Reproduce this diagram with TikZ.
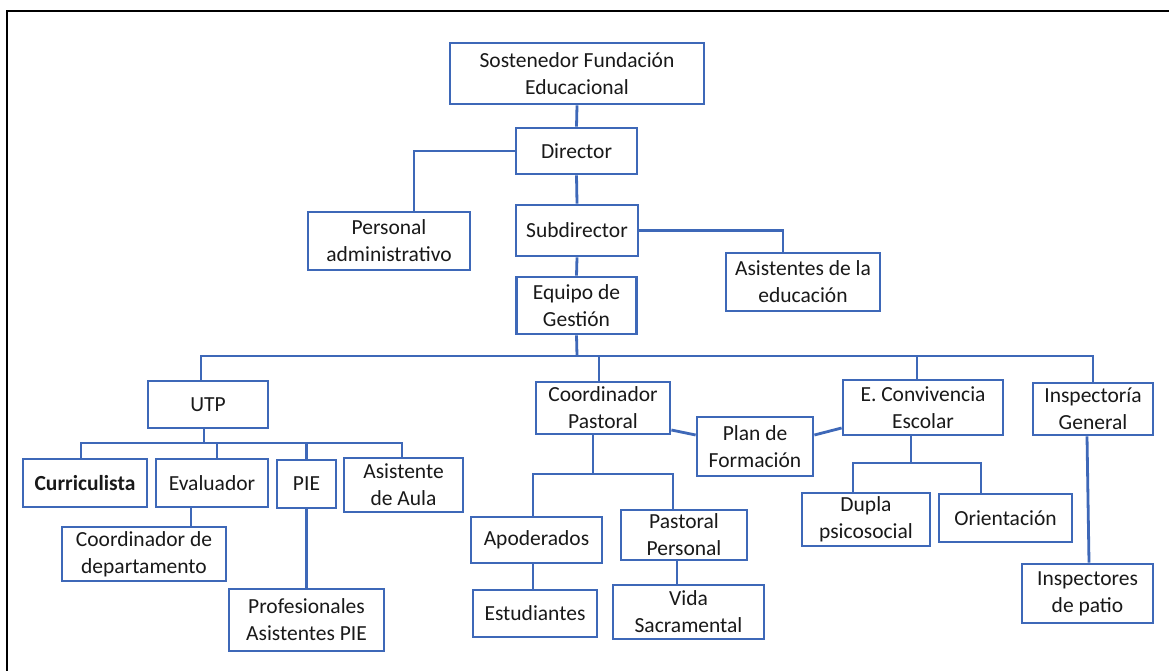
\documentclass[tikz,border=0pt]{standalone}
\usepackage{fontspec}
\setmainfont{Carlito}
\definecolor{boxblue}{RGB}{62,104,184}
\definecolor{txt}{RGB}{25,25,25}
\begin{document}
\begin{tikzpicture}[x=1pt,y=-1pt,
  orgbox/.style={draw=boxblue,line width=2.8pt,fill=white,inner sep=0pt,align=center,
    text=txt,font=\fontsize{21.5}{27}\selectfont},
  link/.style={draw=boxblue,line width=2.8pt},
  frame/.style={draw=black,line width=2.6pt}]
\useasboundingbox (0,0) rectangle (1169,671);
\clip (0,0) rectangle (1169,671);
\fill[white] (0,0) rectangle (1169,671);
\draw[frame] (7,11) rectangle (1190,700);

% nodes
\node[orgbox,minimum width=254pt,minimum height=61pt] (sost) at (577,73.5) {Sostenedor Fundación\\Educacional};
\node[orgbox,minimum width=121pt,minimum height=46pt] (dir) at (576.5,151) {Director};
\node[orgbox,minimum width=162pt,minimum height=58pt] (pers) at (389,241) {Personal\\administrativo};
\node[orgbox,minimum width=122pt,minimum height=51pt] (sub) at (577,230.5) {Subdirector};
\node[orgbox,minimum width=154pt,minimum height=58pt] (asis) at (803,282) {Asistentes de la\\educación};
\node[orgbox,minimum width=120pt,minimum height=57pt] (equipo) at (576.5,305.5) {Equipo de\\Gestión};

\node[orgbox,minimum width=120pt,minimum height=47pt] (utp) at (208,404.5) {UTP};
\node[orgbox,minimum width=124pt,minimum height=48pt] (curr) at (85,483) {\textbf{Curriculista}};
\node[orgbox,minimum width=112pt,minimum height=48pt] (eval) at (212,483) {Evaluador};
\node[orgbox,minimum width=59pt,minimum height=48pt] (pie) at (306.5,484) {PIE};
\node[orgbox,minimum width=119pt,minimum height=54pt] (asau) at (403.5,485) {Asistente\\de Aula};
\node[orgbox,minimum width=164pt,minimum height=54pt] (coord) at (144,554) {Coordinador de\\departamento};
\node[orgbox,minimum width=155pt,minimum height=62pt] (prof) at (306.5,620) {Profesionales\\Asistentes PIE};

\node[orgbox,minimum width=134pt,minimum height=52pt] (cpast) at (603,408) {Coordinador\\Pastoral};
\node[orgbox,minimum width=116pt,minimum height=59pt] (plan) at (755,446.5) {Plan de\\Formación};
\node[orgbox,minimum width=131pt,minimum height=46pt] (apod) at (536.5,540) {Apoderados};
\node[orgbox,minimum width=126pt,minimum height=50pt] (ppers) at (684,535) {Pastoral\\Personal};
\node[orgbox,minimum width=124pt,minimum height=47pt] (estu) at (535,613.5) {Estudiantes};
\node[orgbox,minimum width=151pt,minimum height=54pt] (vida) at (688.5,612) {Vida\\Sacramental};

\node[orgbox,minimum width=160pt,minimum height=55pt] (econv) at (923,407.5) {E. Convivencia\\Escolar};
\node[orgbox,minimum width=120pt,minimum height=52pt] (insp) at (1093,409) {Inspectoría\\General};
\node[orgbox,minimum width=128pt,minimum height=53pt] (dupla) at (866,519.5) {Dupla\\psicosocial};
\node[orgbox,minimum width=133pt,minimum height=48pt] (orient) at (1005.5,518) {Orientación};
\node[orgbox,minimum width=131pt,minimum height=59pt] (inspp) at (1087.5,593.5) {Inspectores\\de patio};

% connectors (top)
\draw[link] (sost.south) -- (dir.north);
\draw[link] (dir.west) -| ([xshift=25pt]pers.north);
\draw[link] (dir.south) -- (sub.north);
\draw[link] (sub.east) -| ([xshift=-20pt]asis.north);
\draw[link] (sub.south) -- (equipo.north);

% main bus
\coordinate (bus) at (577,356);
\draw[link] (equipo.south) -- (bus);
\draw[link] ([xshift=-7pt]utp.north) |- (insp.north |- bus) -- (insp.north);
\draw[link] ([xshift=-4pt]cpast.north) -- ([xshift=-4pt]cpast.north |- bus);
\draw[link] ([xshift=-6pt]econv.north) -- ([xshift=-6pt]econv.north |- bus);

% UTP branch
\coordinate (ubus) at (204,443);
\draw[link] ([xshift=-4pt]utp.south) -- (ubus);
\draw[link] ([xshift=-4pt]curr.north) |- ([xshift=-1.5pt]asau.north |- ubus) -- ([xshift=-1.5pt]asau.north);
\draw[link] ([xshift=5pt]eval.north) -- ([xshift=5pt]eval.north |- ubus);
\draw[link] (pie.north) -- (pie.north |- ubus);
\draw[link] ([xshift=-21pt]eval.south) -- ([xshift=-21pt]eval.south |- coord.north);
\draw[link] (pie.south) -- (pie.south |- prof.north);

% Pastoral branch
\coordinate (pbus) at (593,474);
\draw[link] ([xshift=-10pt]cpast.south) -- (pbus);
\draw[link] ([xshift=-3.5pt]apod.north) |- ([xshift=-11pt]ppers.north |- pbus) -- ([xshift=-11pt]ppers.north);
\draw[link] ([xshift=-3.5pt]apod.south) -- ([xshift=-3.5pt]apod.south |- estu.north);
\draw[link] ([xshift=-7pt]ppers.south) -- ([xshift=-7pt]ppers.south |- vida.north);
\draw[link] ([yshift=-22pt]cpast.east) -- ([yshift=11.5pt]plan.west);
\draw[link] ([yshift=11.5pt]plan.east) -- ([yshift=-20.5pt]econv.west);

% Convivencia branch
\coordinate (cbus) at (911,463);
\draw[link] ([xshift=-12pt]econv.south) -- (cbus);
\draw[link] ([xshift=-13pt]dupla.north) |- ([xshift=-24.5pt]orient.north |- cbus) -- ([xshift=-24.5pt]orient.north);

% Inspectoria branch
\draw[link] ([xshift=-6pt]insp.south) -- ([xshift=1.5pt]inspp.north);
\end{tikzpicture}
\end{document}
